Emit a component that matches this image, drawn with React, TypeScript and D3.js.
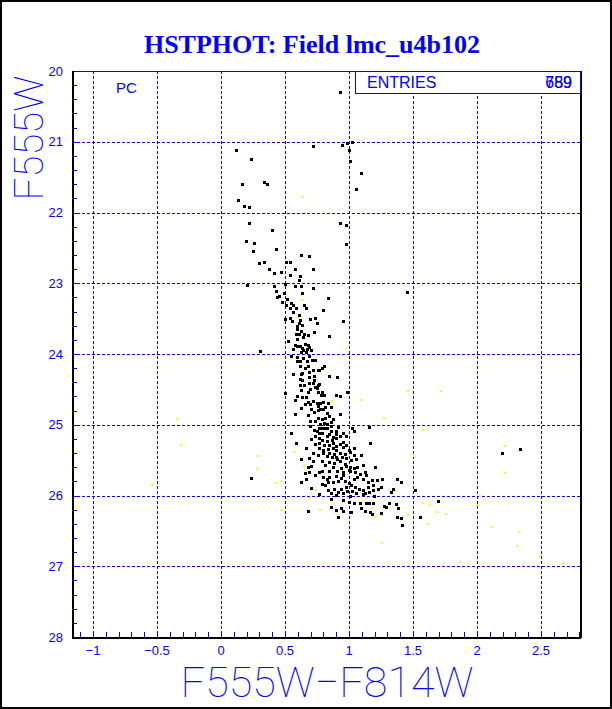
import * as d3 from 'd3'

// colour index (F555W-F814W) and magnitude (F555W)
const blackStars: [number, number][] = [
  [0.935, 20.31], [0.12, 21.13], [0.24, 21.25], [0.17, 21.61], [0.34, 21.57], [0.36, 21.61], [0.14, 21.83],
  [0.185, 21.92], [0.22, 21.93], [0.72, 21.07], [0.95, 21.06], [0.99, 21.03], [1.03, 21.01], [1.005, 21.12],
  [1.01, 21.28], [1.1, 21.45], [1.06, 21.68], [0.22, 22.16], [0.4, 22.26], [0.2, 22.41], [0.26, 22.44],
  [0.43, 22.52], [0.93, 22.16], [0.98, 22.18], [0.98, 22.45],
  [0.25, 22.55], [0.43, 22.53], [0.63, 22.61], [0.695, 22.62], [0.3, 22.72], [0.34, 22.71], [0.51, 22.71],
  [0.54, 22.7], [0.58, 22.81], [0.72, 22.81], [0.38, 22.8], [0.47, 22.85], [0.42, 22.86], [0.54, 22.89],
  [0.62, 22.9], [0.615, 22.96], [0.505, 23.02], [0.21, 23.03], [0.42, 23.05], [0.58, 23.04], [0.63, 23.05],
  [0.72, 23.07], [0.435, 23.12], [0.495, 23.15], [0.64, 23.15], [0.46, 23.19], [0.44, 23.2], [0.52, 23.23],
  [0.48, 23.27], [0.84, 23.22], [0.55, 23.29], [0.51, 23.31], [0.65, 23.31], [0.565, 23.32], [0.59, 23.35],
  [0.67, 23.36], [0.545, 23.36], [0.57, 23.41], [0.8, 23.38], [0.61, 23.45], [0.74, 23.5], [0.5, 23.51],
  [0.54, 23.5], [0.62, 23.53], [0.56, 23.54], [0.7, 23.51], [0.96, 23.54], [0.61, 23.57], [0.635, 23.6],
  [0.6, 23.61], [0.75, 23.57], [0.6, 23.66], [0.63, 23.68], [0.73, 23.69], [0.59, 23.72], [0.61, 23.73],
  [0.655, 23.72], [0.68, 23.74], [0.85, 23.75], [0.645, 23.77], [0.6, 23.79], [0.525, 23.83], [0.66, 23.87],
  [0.58, 23.88], [0.6, 23.9], [0.62, 23.9], [0.57, 23.93], [0.635, 23.92], [0.685, 23.88], [0.695, 23.91],
  [0.675, 23.93], [0.705, 23.95], [0.645, 23.95], [0.625, 23.98], [0.67, 23.98], [0.305, 23.96], [1.46, 23.13],
  [0.55, 24.04], [0.6, 24.05], [0.645, 24.06], [0.695, 24.04], [0.6, 24.11], [0.62, 24.11], [0.675, 24.11],
  [0.715, 24.09], [0.74, 24.09], [0.62, 24.18], [0.68, 24.18], [0.81, 24.17], [0.77, 24.23], [0.795, 24.2],
  [0.72, 24.24], [0.76, 24.24], [0.57, 24.29], [0.63, 24.29], [0.64, 24.28], [0.69, 24.26], [0.85, 24.32],
  [0.91, 24.33], [0.69, 24.33], [0.73, 24.32], [0.73, 24.37], [0.62, 24.36], [0.64, 24.37], [0.695, 24.41],
  [0.76, 24.44], [0.77, 24.43], [0.62, 24.45], [0.65, 24.45], [0.74, 24.48], [0.75, 24.49], [0.63, 24.52],
  [0.7, 24.5], [0.76, 24.55], [0.79, 24.54], [0.81, 24.59], [0.5, 24.56], [0.6, 24.6], [0.64, 24.61],
  [0.665, 24.62], [0.785, 24.59], [0.9, 24.59], [0.93, 24.6], [0.99, 24.54],
  [0.58, 24.66], [0.685, 24.68], [0.7, 24.71], [0.72, 24.67], [0.75, 24.7], [0.76, 24.74], [0.78, 24.7],
  [0.8, 24.68], [0.84, 24.7], [0.82, 24.76], [0.78, 24.78], [0.865, 24.75], [0.71, 24.79], [0.73, 24.83],
  [0.76, 24.8], [0.8, 24.79], [0.83, 24.84], [0.93, 24.85], [0.63, 24.77], [0.58, 24.86], [0.76, 24.91],
  [0.79, 24.93], [0.82, 24.91], [0.85, 24.88], [0.88, 24.93], [0.81, 24.98], [0.83, 24.99], [0.865, 24.97],
  [0.7, 25.02], [0.77, 25.06], [0.79, 25.06], [0.81, 25.06], [0.83, 25.05], [0.73, 25.08], [0.77, 25.13],
  [0.795, 25.12], [0.9, 25.09], [0.9, 25.14], [0.955, 25.12], [0.98, 25.16], [1.04, 25.09], [1.03, 25.06],
  [1.16, 25.04], [0.55, 25.13], [0.74, 25.17], [0.77, 25.19], [0.83, 25.17], [0.85, 25.14], [0.88, 25.18],
  [0.9, 25.2], [0.71, 25.21], [0.77, 25.26], [0.83, 25.24], [0.81, 25.29], [0.85, 25.3], [0.88, 25.26],
  [0.9, 25.31], [0.955, 25.25], [0.59, 25.26], [1.17, 25.26], [0.67, 25.34], [0.77, 25.33], [0.84, 25.35],
  [0.88, 25.34], [0.955, 25.32], [1.04, 25.34], [0.72, 25.41], [0.8, 25.4], [0.85, 25.41], [0.89, 25.42],
  [0.93, 25.4], [0.97, 25.42], [1.01, 25.39], [0.83, 25.45], [0.9, 25.46], [0.91, 25.49], [0.98, 25.48],
  [1.04, 25.44], [1.1, 25.44], [1.06, 25.49], [0.625, 25.49], [0.69, 25.48], [0.72, 25.52], [0.79, 25.52],
  [0.85, 25.54], [0.89, 25.55], [0.93, 25.52], [0.97, 25.56], [1.11, 25.57], [1.07, 25.6], [1.01, 25.61],
  [0.98, 25.59], [1.21, 25.6], [0.71, 25.59], [0.68, 25.61], [0.85, 25.66], [0.91, 25.66], [0.955, 25.68],
  [1.0, 25.64], [1.01, 25.66], [0.695, 25.67], [0.66, 25.69], [0.77, 25.67], [0.795, 25.66], [1.05, 25.68],
  [1.09, 25.71], [1.14, 25.72], [1.125, 25.67], [0.955, 25.72], [0.9, 25.73], [0.85, 25.74], [0.83, 25.77],
  [1.04, 25.78], [1.11, 25.78], [1.18, 25.79], [1.22, 25.79], [1.26, 25.77], [0.84, 25.81], [0.88, 25.82],
  [0.92, 25.8], [0.97, 25.8], [1.0, 25.83], [0.71, 25.9], [0.67, 25.78], [0.63, 25.82], [0.82, 25.86],
  [0.89, 25.91], [0.94, 25.92], [0.98, 25.89], [1.05, 25.88], [1.08, 25.92], [1.11, 25.93], [1.15, 25.89],
  [1.195, 25.93], [1.23, 25.92], [1.255, 25.89], [1.35, 25.91], [1.38, 25.78], [1.41, 25.81], [0.77, 25.99],
  [0.865, 25.97], [0.915, 25.96], [0.955, 25.97], [0.99, 25.95], [1.06, 25.97], [1.11, 25.98], [1.125, 25.97],
  [1.16, 25.96], [1.33, 25.96], [1.52, 25.93], [0.86, 26.06], [0.955, 26.07], [1.0, 26.1], [1.04, 26.11],
  [1.09, 26.12], [1.14, 26.12], [1.16, 26.11], [1.195, 26.12], [1.28, 26.15], [1.32, 26.12], [1.37, 26.13],
  [1.7, 26.08], [0.865, 26.17], [0.9, 26.21], [0.94, 26.18], [0.955, 26.23], [1.1, 26.19], [1.13, 26.23],
  [1.18, 26.27], [1.255, 26.25], [1.29, 26.17], [1.39, 26.19], [1.38, 26.31], [1.41, 26.32], [1.42, 26.43],
  [1.555, 26.31], [1.17, 26.24], [0.92, 26.31], [1.02, 26.24], [0.68, 26.22], [0.24, 25.76],
  [2.34, 25.35], [2.2, 25.41],
  // extra stars in the crowded main-sequence core
  [0.74, 24.96], [0.78, 25.0], [0.86, 25.02], [0.92, 25.04], [0.75, 25.1], [0.86, 25.1], [0.93, 25.17],
  [0.79, 25.22], [0.87, 25.22], [0.74, 25.28], [0.93, 25.28], [0.98, 25.3], [0.8, 25.36], [0.9, 25.37],
  [1.0, 25.36], [0.76, 25.44], [0.87, 25.46], [0.95, 25.46], [1.02, 25.5], [0.82, 25.58], [0.88, 25.6],
  [0.94, 25.62], [1.04, 25.62], [0.74, 25.72], [0.8, 25.75], [0.94, 25.76], [1.07, 25.75], [1.15, 25.82],
  [0.79, 25.84], [1.02, 25.86], [1.19, 25.86], [0.84, 25.93], [1.03, 25.94], [0.9, 26.0], [1.01, 26.02],
  [1.2, 26.02], [0.68, 24.87], [0.7, 24.95], [0.66, 24.72], [0.68, 24.55], [0.72, 24.42], [0.66, 24.2],
]

const yellowStars: [number, number][] = [
  [0.64, 21.78], [0.635, 23.23], [0.6, 23.49], [0.98, 23.92], [0.87, 24.67], [1.09, 24.65], [1.27, 24.91],
  [1.575, 25.08], [0.29, 25.44], [0.57, 25.38], [0.28, 25.62], [0.43, 25.83], [0.47, 25.8], [0.65, 25.59],
  [0.74, 25.92], [0.79, 25.72], [0.95, 25.66], [0.98, 25.62], [0.97, 25.82], [1.22, 25.91], [1.37, 25.93],
  [1.51, 25.44], [1.14, 26.03], [0.34, 26.03], [0.69, 26.03], [0.48, 26.2], [0.77, 26.21], [0.9, 26.23],
  [1.18, 26.18], [1.2, 26.31], [1.37, 26.14], [1.46, 26.27], [1.62, 26.4], [1.575, 26.1], [1.63, 26.13],
  [1.685, 26.24], [1.76, 26.26], [1.26, 26.67], [2.01, 26.14], [1.46, 24.53], [1.72, 24.52], [2.22, 25.3],
  [2.22, 25.68], [2.02, 26.0], [2.12, 26.45], [2.33, 26.51], [2.31, 26.72], [2.49, 26.85], [2.67, 26.97],
  [1.87, 26.94], [-0.54, 25.85], [-0.34, 24.92], [-0.31, 25.28],
]

const xMajor = [-1, -0.5, 0, 0.5, 1, 1.5, 2, 2.5]
const yMajor = [20, 21, 22, 23, 24, 25, 26, 27, 28]
const entryCounts = ['759', '689']

const W = 612
const H = 709
const left = 72
const right = 580
const top = 71
const bottom = 637
const blue = '#0000ff'

export default () => {
  const x = d3.scaleLinear().domain([(left - 221) / 128, (right - 221) / 128]).range([left, right])
  const y = d3.scaleLinear().domain([20, 28]).range([top, bottom])
  const px = (v: number) => Math.round(v) + 0.5

  const xMinor = d3.range(-11, 29).map((d) => d / 10)
  const yMinor = d3.range(0, 41).map((d) => 20 + d / 5)
  const fmt = (d: number) => (d < 0 ? '\u2212' + Math.abs(d) : String(d))

  return (
    <svg width={W} height={H} style={{ position: 'absolute', left: 0, top: 0, background: '#fff' }}>
      <rect x={1} y={1} width={W - 2} height={H - 2} fill="#fff" stroke="#000" strokeWidth={2} />

      <text x={312} y={53} textAnchor="middle" fill={blue} fontFamily="Liberation Serif" fontWeight="bold" fontSize={26}>
        HSTPHOT: Field lmc_u4b102
      </text>

      <g shapeRendering="crispEdges">
        {/* grid */}
        {xMajor.map((d) => (
          <line key={'gx' + d} x1={px(x(d))} x2={px(x(d))} y1={top} y2={bottom} stroke={blue} strokeDasharray="3,2" />
        ))}
        {yMajor.slice(1, -1).map((d) => (
          <line key={'gy' + d} x1={left} x2={right} y1={px(y(d))} y2={px(y(d))} stroke={blue} strokeDasharray="3,2" />
        ))}

        {/* minor ticks */}
        {xMinor.map((d) => (
          <line key={'tx' + d} x1={px(x(d))} x2={px(x(d))} y1={bottom} y2={bottom - 5} stroke={blue} />
        ))}
        {yMinor.map((d) => (
          <line key={'ty' + d} x1={left} x2={left + 5} y1={px(y(d))} y2={px(y(d))} stroke={blue} />
        ))}

        {/* stars */}
        {yellowStars.map(([c, m], i) => (
          <rect key={'ys' + i} x={Math.round(x(c) - 1)} y={Math.round(y(m) - 1)} width={2} height={2} fill="#ffff00" />
        ))}
        {blackStars.map(([c, m], i) => (
          <rect key={'bs' + i} x={Math.round(x(c) - 1.5)} y={Math.round(y(m) - 1.5)} width={3} height={3} fill="#000" />
        ))}

        {/* frame */}
        <line x1={left} x2={right} y1={px(top)} y2={px(top)} stroke={blue} />
        <line x1={px(left)} x2={px(left)} y1={top} y2={bottom + 1} stroke="#000" strokeWidth={2} />
        <line x1={px(right)} x2={px(right)} y1={top} y2={bottom + 1} stroke="#000" strokeWidth={2} />
        <line x1={left} x2={right + 1} y1={px(bottom)} y2={px(bottom)} stroke="#000" strokeWidth={2} />
      </g>

      {/* tick labels */}
      {yMajor.map((d) => (
        <text key={'ly' + d} x={63} y={y(d) + 4.5} textAnchor="end" fill={blue} fontFamily="Liberation Sans" fontSize={13}>
          {d}
        </text>
      ))}
      {xMajor.map((d) => (
        <text key={'lx' + d} x={x(d)} y={655} textAnchor="middle" fill={blue} fontFamily="Liberation Sans" fontSize={13}>
          {fmt(d)}
        </text>
      ))}

      {/* axis titles */}
      <text x={327} y={697} textAnchor="middle" fill={blue} fontFamily="Roboto" fontWeight={100} fontSize={43}>
        F555W{'\u2212'}F814W
      </text>
      <text
        transform="translate(43,138) rotate(-90)"
        textAnchor="middle"
        fill={blue}
        fontFamily="Roboto"
        fontWeight={100}
        fontSize={40}
      >
        F555W
      </text>

      <text x={116} y={93} fill={blue} fontFamily="Liberation Sans" fontSize={15}>
        PC
      </text>

      {/* stats box */}
      <rect x={355.5} y={top + 0.5} width={right - 355} height={22} fill="#fff" stroke={blue} />
      <text x={367} y={88} fill={blue} fontFamily="Liberation Sans" fontSize={16}>
        ENTRIES
      </text>
      {entryCounts.map((d) => (
        <text key={d} x={572} y={88} textAnchor="end" fill={blue} fontFamily="Liberation Sans" fontSize={16}>
          {d}
        </text>
      ))}
    </svg>
  )
}
